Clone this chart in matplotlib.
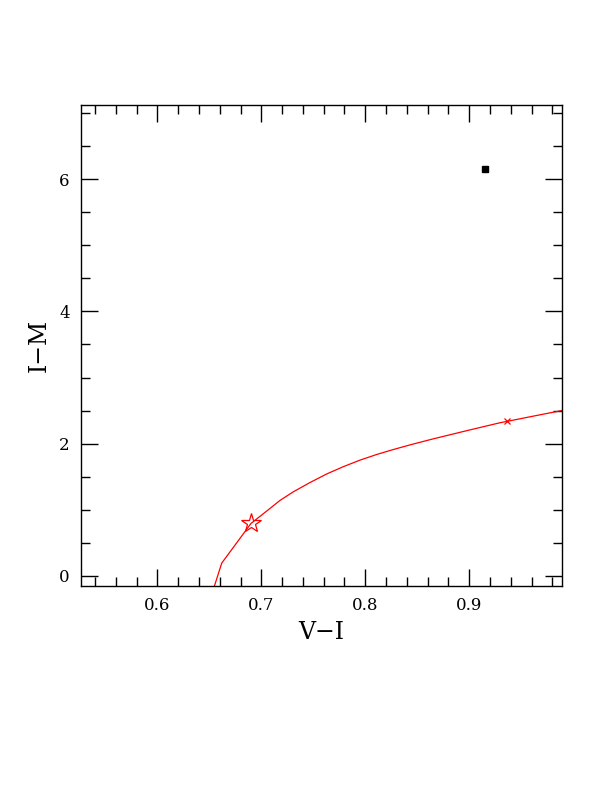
import matplotlib
matplotlib.use('Agg')
import matplotlib.pyplot as plt
from matplotlib.ticker import MultipleLocator

# isochrone-like track
track_vi = [0.652, 0.6619, 0.690, 0.7077, 0.718, 0.7308, 0.7468, 0.7629, 0.7788, 0.795,
            0.811, 0.827, 0.843, 0.865, 0.8975, 0.9295, 0.936, 0.9615, 0.989]
track_m = [-0.30, 0.19, 0.79, 1.01, 1.14, 1.27, 1.41, 1.54, 1.65, 1.75,
           1.835, 1.91, 1.98, 2.07, 2.195, 2.315, 2.335, 2.415, 2.50]

star_vi, star_m = [0.690], [0.793]
cross_vi, cross_m = [0.936], [2.335]
obs_vi, obs_m = [0.9154], [6.155]

xticks = [0.6, 0.7, 0.8, 0.9]
yticks = [0, 2, 4, 6]

plt.rcParams['font.family'] = ['DejaVu Serif']

fig = plt.figure(figsize=(6.12, 7.92), dpi=100)
ax = fig.add_axes([0.1319, 0.2601, 0.7859, 0.6069])

ax.plot(track_vi, track_m, color='red', lw=0.9)
ax.plot(star_vi, star_m, marker='*', ms=15, mfc='none', mec='red', mew=0.9, ls='none')
ax.plot(cross_vi, cross_m, marker='x', ms=4, mec='red', mew=0.9, ls='none')
ax.plot(obs_vi, obs_m, marker='s', ms=5, color='black', ls='none')

ax.set_xlim(0.5263, 0.9889)
ax.set_ylim(-0.156, 7.12)

ax.set_xticks(xticks)
ax.set_xticklabels(['%.1f' % v for v in xticks])
ax.set_yticks(yticks)
ax.set_yticklabels(['%d' % v for v in yticks])
ax.xaxis.set_minor_locator(MultipleLocator(0.02))
ax.yaxis.set_minor_locator(MultipleLocator(0.5))

ax.tick_params(which='both', direction='in', top=True, right=True, width=1, labelsize=12, pad=8)
ax.tick_params(which='major', length=12.5)
ax.tick_params(which='minor', length=6.5)
for s in ax.spines.values():
    s.set_linewidth(1)

ax.set_xlabel('V\u2212I', fontsize=17, labelpad=5)
ax.set_ylabel('I\u2212M', fontsize=17, labelpad=6)

plt.savefig('out.png', dpi=100)
plt.close()
